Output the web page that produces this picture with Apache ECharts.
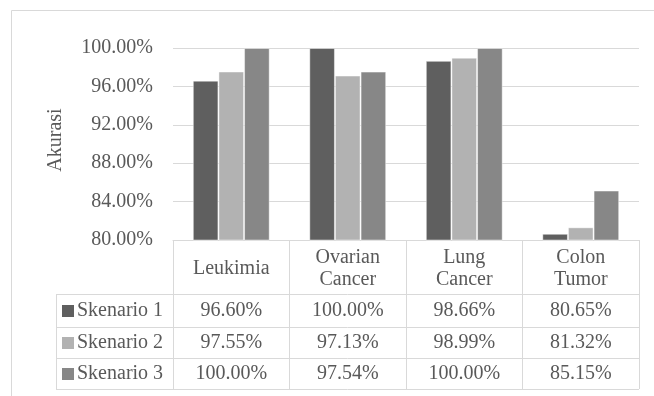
<!DOCTYPE html>
<html><head><meta charset="utf-8">
<script src="https://cdn.jsdelivr.net/npm/echarts@6/dist/echarts.min.js"></script>
<style>html,body{margin:0;padding:0;background:#fff}#c{width:654px;height:396px}</style>
</head><body><div id="c"></div>
<script>
const categories = ['Leukimia', 'Ovarian\nCancer', 'Lung\nCancer', 'Colon\nTumor'];
const seriesNames = ['Skenario 1', 'Skenario 2', 'Skenario 3'];
const skenario1 = [96.60, 100.00, 98.66, 80.65];
const skenario2 = [97.55, 97.13, 98.99, 81.32];
const skenario3 = [100.00, 97.54, 100.00, 85.15];
const yTicks = { min: 80, max: 100, interval: 4 };

const allSeries = [skenario1, skenario2, skenario3];
const colors = ['#5f5f5f', '#b2b2b2', '#878787'];
const FONT = '"Liberation Serif", "Times New Roman", Times, serif';
const TXT = '#595959';
const LINE = '#d9d9d9';

const chart = echarts.init(document.getElementById('c'), null, { renderer: 'canvas' });
const gridLeft = 173, gridRight = 15, gridTop = 48, gridHeight = 192;
const axisY = gridTop + gridHeight;          // 240
const rowBounds = [294, 327, 358, 389];       // table row lines
const tableBottom = rowBounds[3];
const tableLeft = 56;

chart.setOption({
  animation: false,
  grid: { left: gridLeft, right: gridRight, top: gridTop, height: gridHeight, containLabel: false },
  xAxis: {
    type: 'category',
    data: categories,
    axisLine: { show: true, lineStyle: { color: LINE, width: 1 } },
    axisTick: { show: true, interval: 0, length: tableBottom - axisY, lineStyle: { color: LINE, width: 1 } },
    axisLabel: { interval: 0, color: TXT, fontFamily: FONT, fontSize: 20, lineHeight: 22, margin: 29, verticalAlign: 'middle' }
  },
  yAxis: {
    type: 'value',
    min: yTicks.min, max: yTicks.max, interval: yTicks.interval,
    name: 'Akurasi', nameLocation: 'middle', nameRotate: 90, nameGap: 107,
    nameTextStyle: { color: TXT, fontFamily: FONT, fontSize: 20, padding: [0, 0, 0, 8] },
    axisLine: { show: false }, axisTick: { show: false },
    splitLine: { lineStyle: { color: LINE, width: 1 } },
    axisLabel: { color: TXT, fontFamily: FONT, fontSize: 20, margin: 20, formatter: v => v.toFixed(2) + '%' }
  },
  series: allSeries.map((d, i) => ({
    name: seriesNames[i], type: 'bar', data: d,
    barGap: '0%', barCategoryGap: '34%',
    itemStyle: { color: colors[i], borderColor: 'rgba(255,255,255,0.45)', borderWidth: 1 }
  }))
});

// Data table drawn beneath the axis
const g = [];
g.push({ type: 'rect', shape: { x: 11.5, y: 10.5, width: 700, height: 500 }, style: { fill: 'none', stroke: LINE, lineWidth: 1 }, silent: true, z: -10 });
const xRight = 654 - gridRight;
rowBounds.forEach(y => {
  g.push({ type: 'line', shape: { x1: tableLeft, y1: y + 0.5, x2: xRight, y2: y + 0.5 }, style: { stroke: LINE, lineWidth: 1 }, silent: true });
});
g.push({ type: 'line', shape: { x1: tableLeft + 0.5, y1: rowBounds[0], x2: tableLeft + 0.5, y2: tableBottom }, style: { stroke: LINE, lineWidth: 1 }, silent: true });

const txtStyle = (text, align) => ({ text, fill: TXT, fontFamily: FONT, fontSize: 20, align, verticalAlign: 'middle' });
for (let r = 0; r < 3; r++) {
  const cy = (rowBounds[r] + rowBounds[r + 1]) / 2 + 0.5;
  g.push({ type: 'rect', shape: { x: 62, y: cy - 6, width: 12, height: 12 }, style: { fill: colors[r] }, silent: true });
  g.push({ type: 'text', x: 77, y: cy, style: txtStyle(seriesNames[r], 'left'), silent: true });
  allSeries[r].forEach((v, c) => {
    const cx = chart.convertToPixel({ xAxisIndex: 0 }, c);
    g.push({ type: 'text', x: cx, y: cy, style: txtStyle(v.toFixed(2) + '%', 'center'), silent: true });
  });
}
chart.setOption({ graphic: { elements: g } });
</script>
</body></html>
